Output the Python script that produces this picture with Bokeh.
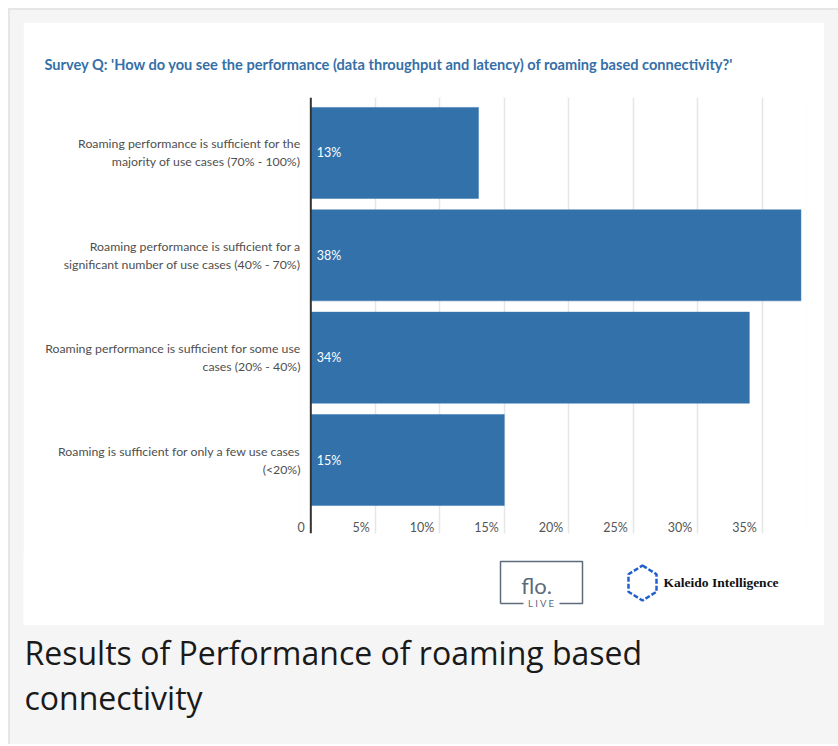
from bokeh.plotting import figure
from bokeh.layouts import column
from bokeh.models import (Range1d, FixedTicker, LinearAxis, LabelSet, Span, Title,
                          ColumnDataSource)
from bokeh.core.properties import value
from bokeh.embed import file_html
from bokeh.resources import INLINE

# ---- data ----
categories = [
    "Roaming performance is sufficient for the\nmajority of use cases (70% - 100%)",
    "Roaming performance is sufficient for a\nsignificant number of use cases (40% - 70%)",
    "Roaming performance is sufficient for some use\ncases (20% - 40%)",
    "Roaming is sufficient for only a few use cases\n(<20%)",
]
values = [13, 38, 34, 15]
value_labels = ["13%", "38%", "34%", "15%"]
x_ticks = [0, 5, 10, 15, 20, 25, 30, 35]
x_tick_labels = ["0", "5%", "10%", "15%", "20%", "25%", "30%", "35%"]
title_text = "Survey Q: 'How do you see the performance (data throughput and latency) of roaming based connectivity?'"
caption_lines = ["Results of Performance of roaming based", "connectivity"]
logo1_main, logo1_sub = "flo.", "L I V E"
logo2_text = "Kaleido Intelligence"

positions = list(range(len(categories) - 1, -1, -1))  # first category on top

GRAY = "#f5f5f5"
X_START, X_END = -0.8, 38.43
PX_PER_UNIT = 12.9

# x tick labels are right-aligned a few pixels left of their gridline:
# place each (centred) label at gridline - gap - half its estimated width
def _label_offset_px(s):
    digits = sum(ch.isdigit() for ch in s)
    return 6 + 0.5 * (7.2 * digits + (9 if "%" in s else 0))

label_pos = [t - _label_offset_px(s) / PX_PER_UNIT for t, s in zip(x_ticks, x_tick_labels)]

# ---------------- chart card ----------------
p = figure(width=801, height=531, output_backend="svg", toolbar_location=None,
           x_range=Range1d(X_START, X_END), y_range=Range1d(-0.718, 3.542),
           min_border_left=277, min_border_right=18, min_border_top=75,
           min_border_bottom=20, x_axis_location=None, y_axis_location=None,
           background_fill_color="white", border_fill_color="white",
           margin=(14, 14, 0, 15), frame_align=False)
p.outline_line_color = None

src = ColumnDataSource(dict(y=positions, v=values, lab=value_labels))
p.hbar(y="y", left=0, right="v", height=0.89, source=src,
       fill_color="#3371aa", line_color="#3d78ae", line_width=0.5)

p.add_layout(LabelSet(x=0, y="y", text="lab", source=src, x_offset=6,
                      text_baseline="middle", text_color="white",
                      text_font=value("Lato"), text_font_size="12.5px"))

p.add_layout(Span(location=0, dimension="height", line_color="#333333", line_width=2))

# y axis (category labels)
yax = LinearAxis(ticker=FixedTicker(ticks=positions),
                 major_label_overrides={pos: c for pos, c in zip(positions, categories)})
yax.axis_line_color = None
yax.major_tick_line_color = None
yax.major_tick_out = 0
yax.major_tick_in = 0
yax.minor_tick_line_color = None
yax.major_label_standoff = 0
yax.major_label_text_font = "Lato"
yax.major_label_text_font_size = "12.3px"
yax.major_label_text_color = "#4f4f4f"
p.add_layout(yax, "left")

# x axis, labels drawn inside the plot area
xax = LinearAxis(ticker=FixedTicker(ticks=label_pos),
                 major_label_overrides={lp: s for lp, s in zip(label_pos, x_tick_labels)})
xax.axis_line_color = None
xax.major_tick_line_color = None
xax.major_tick_out = 0
xax.major_tick_in = 0
xax.minor_tick_line_color = None
xax.major_label_standoff = -14
xax.major_label_text_font = "Lato"
xax.major_label_text_font_size = "12.5px"
xax.major_label_text_color = "#555555"
p.add_layout(xax, "below")

p.xgrid.ticker = FixedTicker(ticks=x_ticks[1:])
p.xgrid.grid_line_color = "#e6e6e6"
p.xgrid.grid_line_width = 1.5
p.ygrid.grid_line_color = None

p.add_layout(Title(text=title_text, align="left", offset=-256, standoff=50,
                   text_font="Lato", text_font_style="bold", text_font_size="14.6px",
                   text_color="#3570a8"), "above")

# ---------------- logos strip ----------------
lg = figure(width=801, height=73, output_backend="svg", toolbar_location=None,
            x_range=Range1d(0, 801), y_range=Range1d(73, 0),
            min_border=0, x_axis_location=None, y_axis_location=None,
            background_fill_color="white", border_fill_color="white",
            margin=(-1, 14, 0, 15), frame_align=False)
lg.outline_line_color = None
lg.grid.visible = False
LOGO_GRAY = "#5e6b7b"
lg.multi_line(xs=[[477, 477, 559, 559, 536], [500, 477]],
              ys=[[51, 9, 9, 51, 51], [51, 51]],
              line_color=LOGO_GRAY, line_width=1.5)
lg.text(x=[513], y=[32.5], text=[logo1_main], text_font=value("Lato"),
        text_font_size="22px", text_color=LOGO_GRAY, text_align="center",
        text_baseline="middle")
lg.text(x=[518], y=[51], text=[logo1_sub], text_font=value("Lato"),
        text_font_size="9.5px", text_color=LOGO_GRAY, text_align="center",
        text_baseline="middle")
lg.patch(x=[619, 633, 633, 619, 605, 605], y=[13, 21.7, 39.3, 48, 39.3, 21.7],
         fill_color=None, line_color="#2160cc", line_width=2.5, line_dash="5 2")
lg.text(x=[640], y=[29.5], text=[logo2_text], text_font=value("Liberation Serif"),
        text_font_style="bold", text_font_size="13.5px", text_color="#111111",
        text_baseline="middle")

# ---------------- caption ----------------
cap = figure(width=801, height=119, output_backend="svg", toolbar_location=None,
             x_range=Range1d(0, 801), y_range=Range1d(119, 0),
             min_border=0, x_axis_location=None, y_axis_location=None,
             background_fill_color=GRAY, border_fill_color=GRAY,
             margin=(0, 14, 0, 15), frame_align=False)
cap.outline_line_color = None
cap.grid.visible = False
cap.text(x=[1, 1], y=[27, 72], text=caption_lines, text_font=value("Open Sans"),
         text_font_size="32px", text_color="#1a1a1a", text_baseline="middle")

layout = column(p, lg, cap, margin=(8, 0, 0, 8), spacing=0,
                styles={"background-color": GRAY, "box-shadow": "inset 2px 2px 0 #e6e6e6"})

open("out.html", "w").write(file_html(layout, INLINE))
